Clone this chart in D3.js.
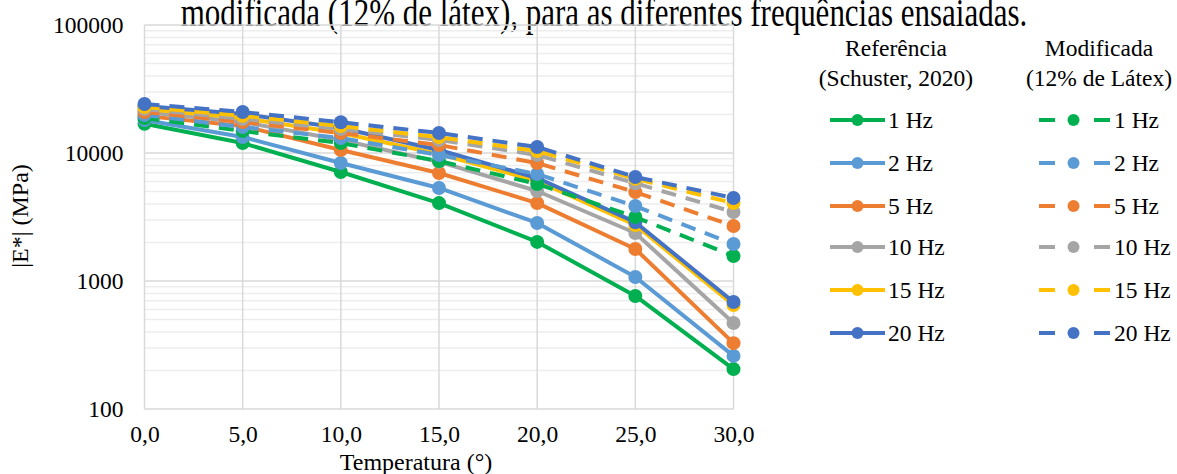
<!DOCTYPE html>
<html>
<head>
<meta charset="utf-8">
<script src="https://cdn.jsdelivr.net/npm/d3@7"></script>
<style>
  html, body { margin: 0; padding: 0; background: #fff; }
  svg text { font-family: "Liberation Serif", "Times New Roman", serif; fill: #000; }
</style>
</head>
<body>
<svg id="chart" width="1177" height="474"></svg>
<script>
// Temperatures (°) on the x axis
const temps = [0, 5, 10, 15, 20, 25, 30];
const freqLabels = ["1 Hz", "2 Hz", "5 Hz", "10 Hz", "15 Hz", "20 Hz"];
const seriesColors = ["#00B050", "#5B9BD5", "#ED7D31", "#A5A5A5", "#FFC000", "#4472C4"];

// |E*| (MPa) – Referência (Schuster, 2020)
const ref1Hz  = [16900, 11960, 7110, 4060, 2020, 764, 205];
const ref2Hz  = [18100, 13340, 8350, 5330, 2840, 1075, 260];
const ref5Hz  = [19500, 16250, 10550, 6980, 4060, 1780, 327];
const ref10Hz = [20900, 17470, 12650, 8530, 5050, 2370, 470];
const ref15Hz = [22070, 18800, 14330, 9830, 6040, 2740, 650];
const ref20Hz = [23300, 20200, 15700, 10550, 6380, 2880, 685];

// |E*| (MPa) – Modificada (12% de Látex)
const mod1Hz  = [18760, 14850, 11960, 8660, 5730, 3160, 1567];
const mod2Hz  = [19800, 15950, 13100, 9640, 6850, 3850, 1945];
const mod5Hz  = [20900, 17470, 14330, 11550, 8350, 4950, 2690];
const mod10Hz = [22070, 18450, 15400, 12650, 9650, 5800, 3460];
const mod15Hz = [22860, 19500, 16250, 13300, 10370, 6300, 4060];
const mod20Hz = [24150, 20900, 17400, 14330, 11140, 6500, 4450];

const yTickValues = [100, 1000, 10000, 100000];
const xTickValues = [0, 5, 10, 15, 20, 25, 30];

const refSeries = [ref1Hz, ref2Hz, ref5Hz, ref10Hz, ref15Hz, ref20Hz];
const modSeries = [mod1Hz, mod2Hz, mod5Hz, mod10Hz, mod15Hz, mod20Hz];

const svg = d3.select("#chart");
const plot = { left: 144.5, right: 733.5, top: 25, bottom: 409 };

const x = d3.scaleLinear().domain([0, 30]).range([plot.left, plot.right]);
const y = d3.scaleLog().domain([100, 100000]).range([plot.bottom, plot.top]);

const ptBR = d3.formatLocale({ decimal: ",", thousands: ".", grouping: [3], currency: ["R$", ""] });
const fmtX = ptBR.format(".1f");

// Title: tall, narrow caption whose upper part runs past the top edge
svg.append("text")
  .attr("transform", "translate(604,26) scale(0.775,1)")
  .attr("text-anchor", "middle")
  .style("font-size", "40px")
  .text("modificada (12% de látex), para as diferentes frequências ensaiadas.");

// Minor horizontal gridlines (2..9 in every decade)
const minor = [];
for (let d = 100; d < 100000; d *= 10) for (let k = 2; k <= 9; k++) minor.push(d * k);
svg.append("g").selectAll("line").data(minor).join("line")
  .attr("x1", plot.left).attr("x2", plot.right)
  .attr("y1", d => y(d)).attr("y2", d => y(d))
  .attr("stroke", "#EDEDED").attr("stroke-width", 1.5);

// Major horizontal gridlines
svg.append("g").selectAll("line").data(yTickValues).join("line")
  .attr("x1", plot.left).attr("x2", plot.right)
  .attr("y1", d => y(d)).attr("y2", d => y(d))
  .attr("stroke", "#D9D9D9").attr("stroke-width", 1.5);

// Vertical gridlines
svg.append("g").selectAll("line").data(xTickValues).join("line")
  .attr("x1", d => x(d)).attr("x2", d => x(d))
  .attr("y1", plot.top).attr("y2", plot.bottom)
  .attr("stroke", "#D9D9D9").attr("stroke-width", 1.5);

// Axes: only labels, no domain / tick marks
const yAxis = svg.append("g")
  .attr("transform", `translate(${plot.left},0)`)
  .call(d3.axisLeft(y).tickValues(yTickValues).tickFormat(d3.format("d")).tickSize(0).tickPadding(21));
yAxis.select(".domain").remove();
yAxis.selectAll("text").style("font-size", "23.5px").attr("font-family", null);

const xAxis = svg.append("g")
  .attr("transform", `translate(0,${plot.bottom})`)
  .call(d3.axisBottom(x).tickValues(xTickValues).tickFormat(fmtX).tickSize(0).tickPadding(16));
xAxis.select(".domain").remove();
xAxis.selectAll("text").style("font-size", "23.5px").attr("font-family", null);

// Axis titles
svg.append("text")
  .attr("x", 416).attr("y", 470)
  .attr("text-anchor", "middle")
  .style("font-size", "24px")
  .text("Temperatura (°)");

svg.append("text")
  .attr("transform", "translate(28,216) rotate(-90)")
  .attr("text-anchor", "middle")
  .style("font-size", "24px")
  .text("|E*| (MPa)");

// Series
const line = d3.line().x((d, i) => x(temps[i])).y(d => y(d));
const markerR = 7;

function drawSeries(values, color, dashed) {
  const g = svg.append("g");
  g.append("path")
    .attr("d", line(values))
    .attr("fill", "none")
    .attr("stroke", color)
    .attr("stroke-width", 4)
    .attr("stroke-linejoin", "round")
    .attr("stroke-dasharray", dashed ? "15,10" : null);
  g.selectAll("circle").data(values).join("circle")
    .attr("cx", (d, i) => x(temps[i]))
    .attr("cy", d => y(d))
    .attr("r", markerR)
    .attr("fill", color);
}

refSeries.forEach((s, i) => drawSeries(s, seriesColors[i], false));
modSeries.forEach((s, i) => drawSeries(s, seriesColors[i], true));

// Legend
const legendRows = [120, 163, 206, 247, 290, 333];
const leg = svg.append("g");
const legFont = "23.5px";

leg.append("text").attr("x", 896).attr("y", 56).attr("text-anchor", "middle")
  .style("font-size", legFont).text("Referência");
leg.append("text").attr("x", 896).attr("y", 86).attr("text-anchor", "middle")
  .style("font-size", legFont).text("(Schuster, 2020)");
leg.append("text").attr("x", 1099).attr("y", 56).attr("text-anchor", "middle")
  .style("font-size", legFont).text("Modificada");
leg.append("text").attr("x", 1099).attr("y", 86).attr("text-anchor", "middle")
  .style("font-size", legFont).text("(12% de Látex)");

freqLabels.forEach((lab, i) => {
  const ry = legendRows[i];
  const c = seriesColors[i];
  // solid entry
  leg.append("line").attr("x1", 830).attr("x2", 885).attr("y1", ry).attr("y2", ry)
    .attr("stroke", c).attr("stroke-width", 4);
  leg.append("circle").attr("cx", 857.5).attr("cy", ry).attr("r", 6).attr("fill", c);
  leg.append("text").attr("x", 888).attr("y", ry + 8).style("font-size", legFont).text(lab);
  // dashed entry
  leg.append("line").attr("x1", 1039).attr("x2", 1055).attr("y1", ry).attr("y2", ry)
    .attr("stroke", c).attr("stroke-width", 4);
  leg.append("circle").attr("cx", 1073.5).attr("cy", ry).attr("r", 6).attr("fill", c);
  leg.append("line").attr("x1", 1094).attr("x2", 1110).attr("y1", ry).attr("y2", ry)
    .attr("stroke", c).attr("stroke-width", 4);
  leg.append("text").attr("x", 1114).attr("y", ry + 8).style("font-size", legFont).text(lab);
});
</script>
</body>
</html>
